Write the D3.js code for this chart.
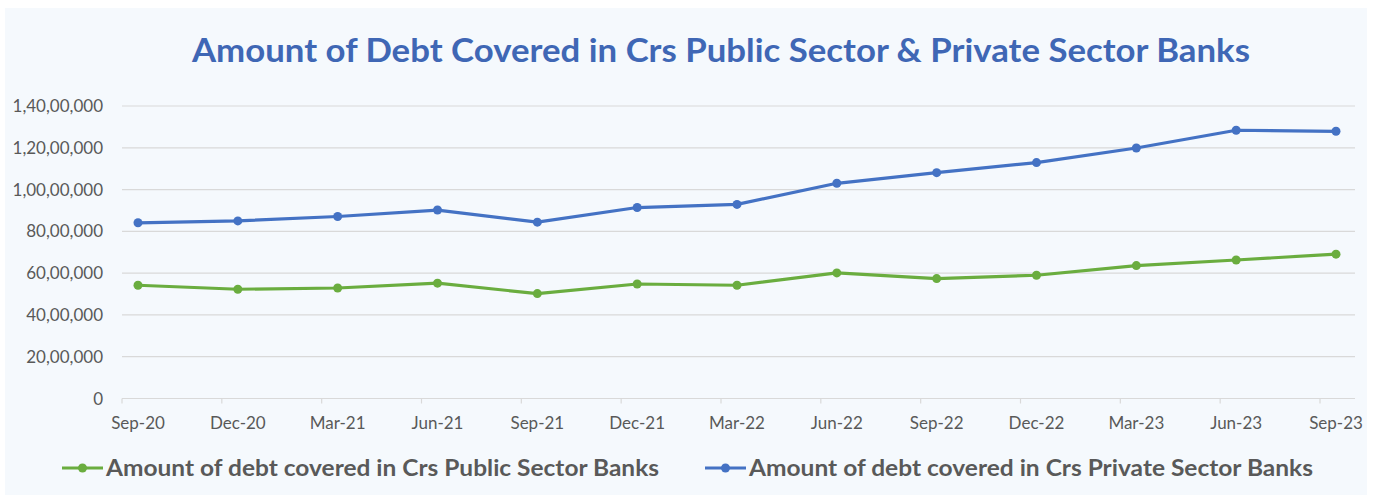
<!DOCTYPE html>
<html>
<head>
<meta charset="utf-8">
<script src="https://cdn.jsdelivr.net/npm/d3@7"></script>
<style>
  body { margin: 0; background: #fff; }
  text { font-family: Lato, "Open Sans", sans-serif; }
</style>
</head>
<body>
<div id="chart"></div>
<script>
// quarter labels
var quarters = ['Sep-20', 'Dec-20', 'Mar-21', 'Jun-21', 'Sep-21', 'Dec-21', 'Mar-22',
                'Jun-22', 'Sep-22', 'Dec-22', 'Mar-23', 'Jun-23', 'Sep-23'];

// amount of debt covered (Rs crore)
var publicBanks  = [5420000, 5230000, 5290000, 5520000, 5020000, 5480000, 5420000,
                    6010000, 5740000, 5900000, 6360000, 6630000, 6910000];
var privateBanks = [8410000, 8500000, 8710000, 9020000, 8440000, 9140000, 9290000,
                    10300000, 10810000, 11290000, 11990000, 12840000, 12790000];

var yTicks = [0, 2000000, 4000000, 6000000, 8000000, 10000000, 12000000, 14000000];

var seriesNames = ['Amount of debt covered in Crs Public Sector Banks',
                   'Amount of debt covered in Crs Private Sector Banks'];

var width = 1373, height = 495,
    green = '#6AAD3F', blue = '#4472C4';

var svg = d3.select('#chart').append('svg')
    .attr('width', width)
    .attr('height', height);

// panel
svg.append('rect')
    .attr('x', 5).attr('y', 8)
    .attr('width', 1362).attr('height', 487)
    .attr('fill', '#F5F9FD');

svg.append('text')
    .attr('x', 721).attr('y', 62)
    .attr('text-anchor', 'middle')
    .attr('font-size', 33)
    .attr('font-weight', 'bold')
    .attr('fill', '#3F67B5')
    .attr('textLength', 1058)
    .attr('lengthAdjust', 'spacingAndGlyphs')
    .text('Amount of Debt Covered in Crs Public Sector & Private Sector Banks');

var plotLeft = 122, plotRight = 1355;

var x = d3.scalePoint().domain(quarters).range([138, 1336]);
var y = d3.scaleLinear().domain([0, 14000000]).range([398.5, 106]);

var fmtIndian = function(v) {
  if (v === 0) return '0';
  var s = String(v), last3 = s.slice(-3), rest = s.slice(0, -3);
  rest = rest.replace(/\B(?=(\d{2})+(?!\d))/g, ',');
  return rest + ',' + last3;
};

// gridlines
svg.append('g').selectAll('line').data(yTicks.slice(1)).enter()
  .append('line')
    .attr('x1', plotLeft).attr('x2', plotRight)
    .attr('y1', function(d){ return y(d); })
    .attr('y2', function(d){ return y(d); })
    .attr('stroke', '#D9D9D9')
    .attr('stroke-width', 1.2);

// y labels
svg.append('g').selectAll('text').data(yTicks).enter()
  .append('text')
    .attr('x', 103)
    .attr('y', function(d){ return y(d) + 6; })
    .attr('text-anchor', 'end')
    .attr('font-size', 17)
    .attr('fill', '#595959')
    .text(fmtIndian);

// x axis
svg.append('line')
    .attr('x1', plotLeft).attr('x2', plotRight)
    .attr('y1', y(0)).attr('y2', y(0))
    .attr('stroke', '#D9D9D9').attr('stroke-width', 1.2);

svg.append('g').selectAll('line').data(quarters).enter()
  .append('line')
    .attr('x1', function(d){ return x(d) - 16; })
    .attr('x2', function(d){ return x(d) - 16; })
    .attr('y1', y(0)).attr('y2', y(0) + 5)
    .attr('stroke', '#D9D9D9').attr('stroke-width', 1.2);

svg.append('g').selectAll('text').data(quarters).enter()
  .append('text')
    .attr('x', function(d){ return x(d); })
    .attr('y', 429)
    .attr('text-anchor', 'middle')
    .attr('font-size', 17)
    .attr('fill', '#595959')
    .text(function(d){ return d; });

// lines
var line = d3.line()
    .x(function(d, i){ return x(quarters[i]); })
    .y(function(d){ return y(d); });

[[publicBanks, green], [privateBanks, blue]].forEach(function(s) {
  svg.append('path')
      .datum(s[0])
      .attr('d', line)
      .attr('fill', 'none')
      .attr('stroke', s[1])
      .attr('stroke-width', 3.2)
      .attr('stroke-linejoin', 'round');

  svg.append('g').selectAll('circle').data(s[0]).enter()
    .append('circle')
      .attr('cx', function(d, i){ return x(quarters[i]); })
      .attr('cy', function(d){ return y(d); })
      .attr('r', 4.5)
      .attr('fill', s[1]);
});

// legend
var legend = [{x: 62, color: green, name: seriesNames[0], w: 553},
              {x: 705, color: blue, name: seriesNames[1], w: 564}];

legend.forEach(function(l) {
  var g = svg.append('g').attr('transform', 'translate(' + l.x + ',468)');
  g.append('line')
      .attr('x1', 0).attr('x2', 41)
      .attr('stroke', l.color).attr('stroke-width', 3.2);
  g.append('circle').attr('cx', 20.5).attr('r', 4.5).attr('fill', l.color);
  g.append('text')
      .attr('x', 44).attr('y', 7.5)
      .attr('font-size', 22)
      .attr('font-weight', 'bold')
      .attr('fill', '#595959')
      .attr('textLength', l.w)
      .attr('lengthAdjust', 'spacingAndGlyphs')
      .text(l.name);
});
</script>
</body>
</html>
